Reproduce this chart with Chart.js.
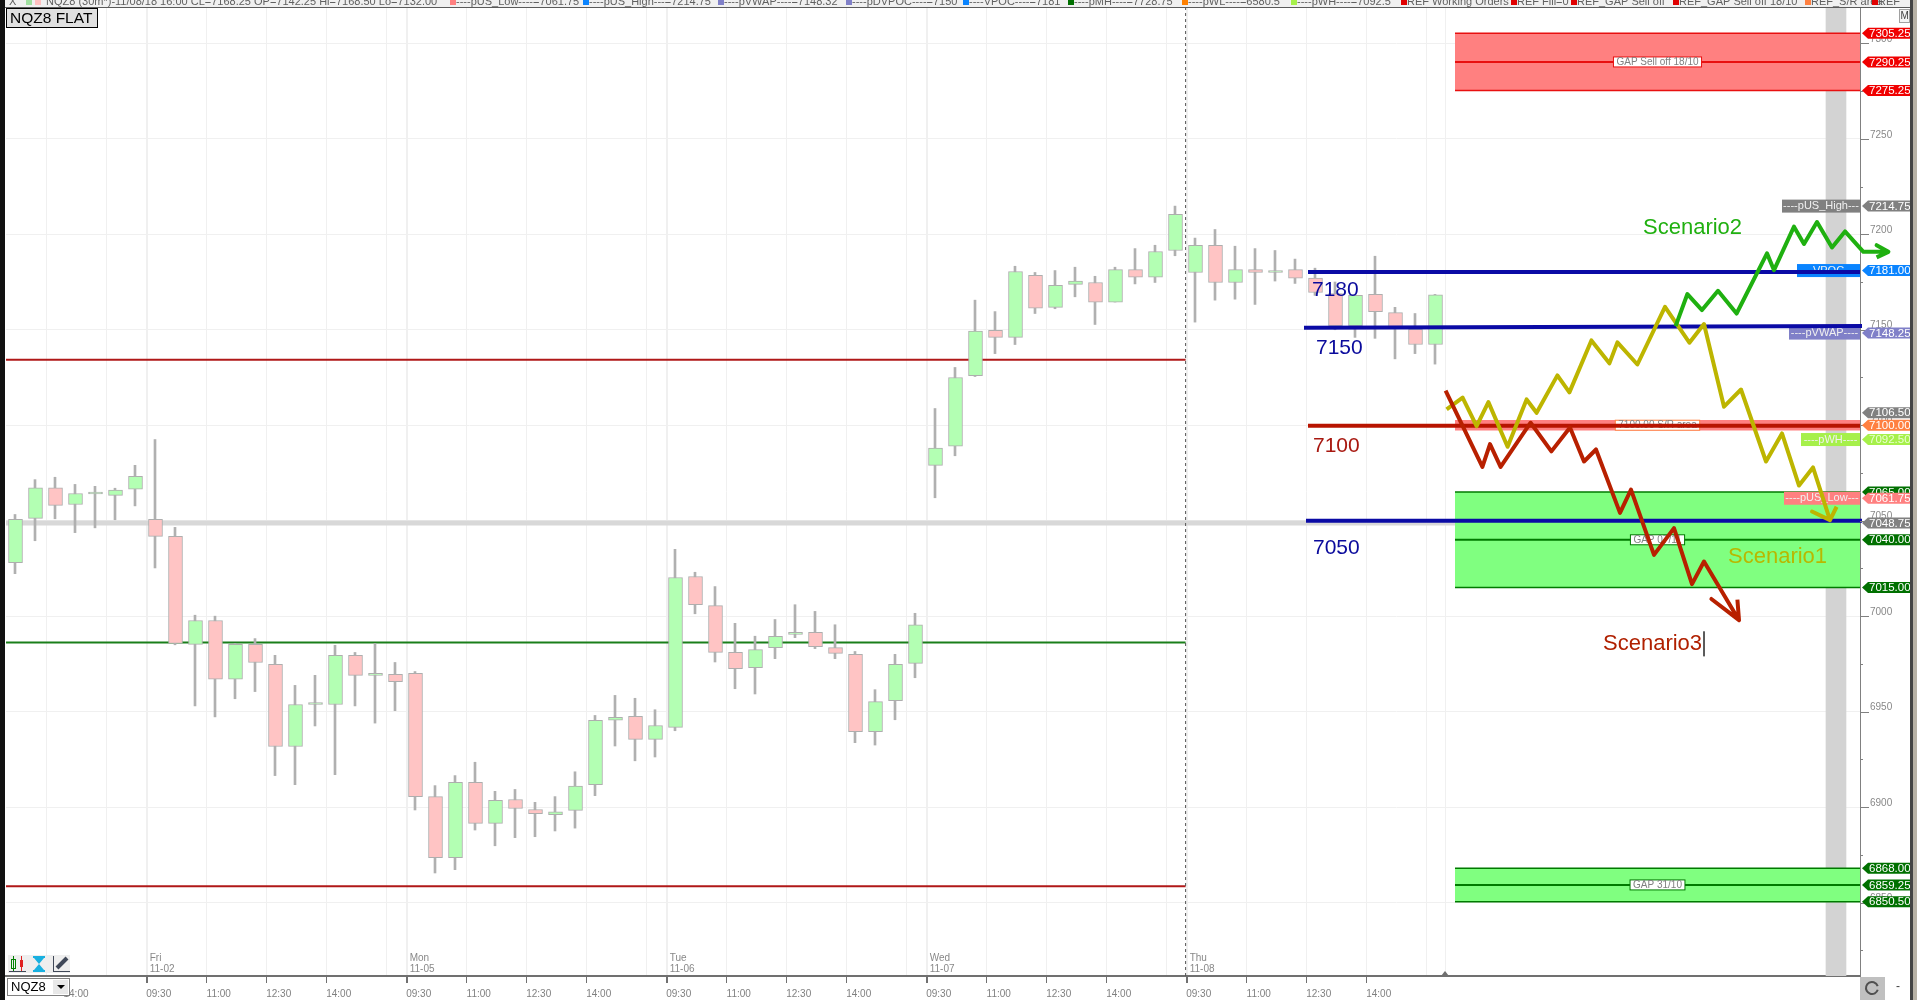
<!DOCTYPE html>
<html>
<head>
    <title>NQZ8 30m</title>
    <script src="https://cdn.jsdelivr.net/npm/chart.js"></script>
    <style>
        html, body { margin: 0; padding: 0; background: #fff; overflow: hidden; }
        canvas { display: block; }
    </style>
</head>
<body>
    <canvas id="myChart" width="1917" height="1000"></canvas>

    <script>
        // 30 minute candles, bar 0 is the first one on screen
        const opens = [7028,7051.25,7067.25,7058.5,7064,7063.25,7066.5,7050.75,7041.75,6985.25,6997.75,6967,6985.25,6974.75,6931.75,6953.75,6953.75,6979.5,6969,6969.5,6970,6905.5,6873.5,6913,6891.5,6904,6898.75,6896,6898.25,6911.75,6945.5,6947.5,6935.5,6941.75,7020.75,7005.5,6981,6973,6983.5,6990.5,6991.5,6983.5,6980,6939.5,6955.75,6975.25,7079,7089,7126,7149.75,7146,7178.5,7161.75,7173.75,7174.75,7164.5,7181.5,7177.5,7191.5,7180,7194.25,7174.75,7181.5,7180,7181.5,7177,7169,7152,7168.5,7159,7150.25,7142.25];
        const highs = [7053.25,7071.5,7072.75,7069,7068,7067,7079,7092.5,7046.5,7000.5,7000,6985.75,6988.25,6979.5,6963.75,6969,6984.75,6981,6985.75,6975.75,6971,6911.25,6916.5,6923.5,6908.25,6909.25,6902.5,6905.5,6918.5,6948,6958.5,6957,6951,7035,7023,7015.5,6996.25,6989.5,6998.25,7006,7002.5,6995.5,6981.5,6961.5,6980,7001.5,7108.75,7130.25,7165.5,7159.5,7183.25,7180,7181,7182.75,7178,7182.75,7192.5,7194.25,7214.75,7198,7202.5,7193.75,7192.5,7191.5,7187,7182.25,7175,7168,7188.5,7161.75,7158.5,7168.5];
        const lows = [7022.25,7039.5,7051,7043.75,7046.25,7050.5,7057.75,7025.25,6985,6953,6947.25,6956.75,6960.5,6916.5,6911.75,6942.5,6917,6953,6944,6950.5,6898.5,6865.5,6867.25,6888,6879.75,6884,6884.5,6887.5,6889,6906,6932,6924.25,6926.25,6940,7001.25,6976,6962,6959.25,6977.75,6988.75,6983,6977.75,6933.75,6932.5,6945.75,6967.75,7062,7084,7125.5,7137.5,7142.25,7158.5,7161,7167.25,7152.75,7164.5,7174,7174.75,7188.75,7154,7165.5,7166,7163.25,7175.5,7174.25,7168,7150,7146,7145.5,7134.75,7137.5,7132];
        const closes = [7050.75,7067.25,7058,7064.25,7064,7066,7073.25,7041.75,6985.75,6997.75,6967,6985.25,6975.75,6931.75,6953.75,6953.75,6979.5,6969,6970,6965.75,6905.5,6873.5,6913,6891.5,6903.5,6899.25,6896.5,6897.5,6911,6945.5,6947,6935.5,6942.75,7020.25,7006,6981,6972.5,6982.5,6989.5,6991.5,6984,6980.5,6939.5,6955.25,6974.75,6995.5,7088,7125,7149.25,7146,7180.5,7161.25,7173.25,7175.5,7164.5,7181.5,7177.5,7191,7210.5,7194.25,7174.75,7181.5,7180,7181,7177,7169.5,7152,7168,7159.5,7151.5,7142.25,7168.25];

        // time axis: a gridline sits a little left of its bar
        const xTickBars = [2,2.865,5,7,10,13,16,19,20,23,26,29,32,33,36,39,42,45,46,49,52,55,58,59,62,65,68,71,71.915];
        const xTickLabels = ['','14:00','','09:30','11:00','12:30','14:00','','09:30','11:00','12:30','14:00','','09:30','11:00','12:30','14:00','','09:30','11:00','12:30','14:00','','09:30','11:00','12:30','14:00','',''];
        const dayBars = [7,20,33,46,59];
        const dayNames = ['Fri','Mon','Tue','Wed','Thu'];
        const dayDates = ['11-02','11-05','11-06','11-07','11-08'];
        const priceTicks = [6825,6850,6875,6900,6925,6950,6975,7000,7025,7050,7075,7100,7125,7150,7175,7200,7225,7250,7275,7300];

        // levels
        const zoneTops = [7305.25,7065,6868];
        const zoneMids = [7290.25,7040,6859.25];
        const zoneBottoms = [7275.25,7015,6850.5];
        const zoneNames = ['GAP Sell off 18/10','GAP 07/11','GAP 31/10'];
        const srTop = 7102.75;
        const srBottom = 7097.25;
        const srName = '7100.00 S/R area';
        const prevLevels = [7134.25,6986.25,6858.5];
        const vwapLevel = 7048.75;

        // hand drawn lines
        const drawnLeft = [64.65,64.45,64.65,64.55];
        const drawnRight = [92.25,92.35,92.25,92.35];
        const drawnStart = [7180.25,7151,7099.75,7050];
        const drawnEnd = [7180.25,7152,7099.75,7050];

        const scenario1X = [71.58,72.38,73.08,73.67,74.63,75.58,76.08,77.12,77.72,78.82,79.72,80.12,81.12,82.5,83.72,84.45,85.45,86.3,87.55,88.35,89.2,89.9,90.75,89.85,90.75,91.08];
        const scenario1Y = [7108.3,7114.5,7099.5,7112.1,7088.7,7113.5,7106.5,7126.1,7117.2,7144.4,7132.4,7143.4,7131.8,7162,7143.2,7153,7109.7,7118.7,7081,7095.7,7068.4,7077.9,7050.3,7054.8,7050.3,7057.3];
        const scenario2X = [83.03,83.62,84.35,85.15,86.08,87.6,87.95,88.95,89.45,90.1,90.85,91.5,92.42,93.67,93.08,93.67,93.08];
        const scenario2Y = [7151.9,7168.7,7160.3,7170.4,7158.5,7190,7181.2,7204,7194.9,7206.4,7193.1,7201.5,7190.8,7190.8,7194.3,7190.8,7187.9];
        const scenario3X = [71.53,73.37,73.75,74.28,75.78,76.82,77.75,78.45,79.05,80.25,80.8,81.95,82.95,83.85,84.45,86.2,84.82,86.2,86.12];
        const scenario3Y = [7118.1,7078.2,7090.1,7078.2,7101.3,7086.3,7098.8,7081,7087.3,7054.1,7066.3,7032.1,7046.1,7016.8,7028.6,6997.9,7009,6997.9,7008.7];

        const noteTexts = ['7180','7150','7100','7050','Scenario1','Scenario2','Scenario3'];
        const noteX = [64.85,65.05,64.9,64.9,85.65,81.4,79.4];
        const noteY = [7170.8,7140.4,7089,7035.7,7030.9,7203.2,6985.3];

        // price flags on the right axis
        const flagValues = [7305.25,7290.25,7275.25,7214.75,7181,7148.25,7106.5,7100,7092.5,7065,7061.75,7048.75,7040,7015,6868,6859.25,6850.5];
        const flagColors = ['#f00000','#f00000','#f00000','#808080','#0a84ff','#8080c8','#808080','#ff8040','#a6f04a','#007000','#ff8080','#808080','#007000','#007000','#007000','#007000','#007000'];

        const sideNames = ['----pUS_High---','----VPOC----','----pVWAP----','----pWH----','----pUS_Low---'];
        const sideValues = [7214.75,7181,7148.25,7092.5,7061.75];
        const sideColors = ['#808080','#0a84ff','#8080c8','#a6f04a','#ff8080'];
        const sideWidths = [78,63,71,59,76];

        const headerItems = [
            ['#a0e0a0', 26, ''], ['#ffc0c0', 35, ''],
            ['', 46, 'NQZ8 (30m*)-11/08/18 16:00 CL=7168.25 OP=7142.25 Hi=7168.50 Lo=7132.00'],
            ['#ff8080', 450, '----pUS_Low----=7061.75'], ['#0a84ff', 583, '----pUS_High---=7214.75'],
            ['#8080c8', 718, '----pVWAP----=7148.32'], ['#8080c8', 846, '----pDVPOC----=7150'],
            ['#0a84ff', 963, '----VPOC----=7181'], ['#007000', 1068, '----pMH----=7728.75'],
            ['#ff8000', 1182, '----pWL----=6580.5'], ['#a6f04a', 1291, '----pWH----=7092.5'],
            ['#e00000', 1401, 'REF Working Orders'], ['#e00000', 1511, 'REF Fill=0'],
            ['#e00000', 1571, 'REF_GAP Sell off'], ['#e00000', 1673, 'REF_GAP Sell off 18/10'],
            ['#ff8040', 1805, 'REF_S/R area'], ['#e00000', 1872, 'REF']
        ];

        const FONT = '"Liberation Sans", Arial, sans-serif';
        const X_MIN = -0.45, X_MAX = 92.25, Y_MIN = 6811.55, Y_MAX = 7318.5;
        const ZONE_LEFT = 72;

        function hline(x0, x1, y0, y1, color, width, order, extra) {
            return Object.assign({
                type: 'line',
                data: [{x: x0, y: y0}, {x: x1, y: y1}],
                borderColor: color,
                borderWidth: width,
                pointRadius: 0,
                order: order
            }, extra || {});
        }

        function polyline(xs, ys, color, order) {
            return {
                type: 'line',
                data: xs.map((x, i) => ({x: x, y: ys[i]})),
                borderColor: color,
                borderWidth: 4,
                // miter overshoots on the arrow heads
                borderJoinStyle: 'round',
                borderCapStyle: 'butt',
                pointRadius: 0,
                clip: false,
                order: order
            };
        }

        // the edge tick labels must not push the plot area in
        function noPadding(scale) {
            scale.paddingLeft = 0;
            scale.paddingRight = 0;
            scale.paddingTop = 0;
            scale.paddingBottom = 0;
        }

        let datasets = [];

        // session shading
        datasets.push({
            type: 'bar',
            data: [{x: 91.05, y: [Y_MIN, Y_MAX]}],
            backgroundColor: '#d3d3d3',
            barThickness: 20,
            grouped: false,
            order: 100
        });

        // previous levels and vwap
        datasets.push(hline(X_MIN, X_MAX, vwapLevel, vwapLevel, '#d8d8d8', 5, 95));
        datasets.push(hline(X_MIN, 58.53, prevLevels[0], prevLevels[0], '#b01818', 2, 90));
        datasets.push(hline(X_MIN, 58.53, prevLevels[1], prevLevels[1], '#1a7f1a', 2, 90));
        datasets.push(hline(X_MIN, 58.53, prevLevels[2], prevLevels[2], '#b01818', 2, 90));

        // gap zones
        zoneTops.forEach((top, i) => {
            let fillColor = i === 0 ? '#ff8080' : '#80ff80';
            let edge = i === 0 ? '#e81010' : '#007a00';
            datasets.push(hline(ZONE_LEFT, X_MAX, top, top, edge, 1.5, 80, {
                fill: {value: zoneBottoms[i]},
                backgroundColor: fillColor
            }));
            datasets.push(hline(ZONE_LEFT, X_MAX, zoneBottoms[i], zoneBottoms[i], edge, 1.5, 79));
            datasets.push(hline(ZONE_LEFT, X_MAX, zoneMids[i], zoneMids[i], edge, 2, 78));
        });
        datasets.push(hline(ZONE_LEFT, X_MAX, srTop, srTop, '#ff8080', 0, 80, {
            fill: {value: srBottom},
            backgroundColor: '#ff8080'
        }));

        // candles: wick bar under a body bar
        datasets.push({
            type: 'bar',
            data: highs.map((h, i) => ({x: i, y: [lows[i], h]})),
            backgroundColor: '#b0b0b0',
            barThickness: 2,
            grouped: false,
            order: 70
        });
        datasets.push({
            type: 'bar',
            data: opens.map((o, i) => ({x: i + 0.025, y: [o, closes[i]]})),
            backgroundColor: opens.map((o, i) => closes[i] >= o ? '#b3ffb3' : '#ffc4c4'),
            borderColor: '#aeaeae',
            borderWidth: 1,
            borderSkipped: false,
            barThickness: 14,
            minBarLength: 2,
            grouped: false,
            order: 60
        });

        // current time marker
        datasets.push(hline(58.53, 58.53, Y_MIN, Y_MAX, '#555555', 1, 55, {borderDash: [3, 3]}));

        // drawn levels
        ['#0a0aa5', '#0a0aa5', '#b81400', '#0a0aa5'].forEach((color, i) => {
            datasets.push(hline(drawnLeft[i], drawnRight[i], drawnStart[i], drawnEnd[i], color, 4, 50, {clip: false, label: 'drawn'}));
        });

        datasets.push(polyline(scenario1X, scenario1Y, '#bdb500', 42));
        datasets.push(polyline(scenario2X, scenario2Y, '#1fb010', 41));
        datasets.push(polyline(scenario3X, scenario3Y, '#b82000', 40));

        // text cursor after Scenario3
        datasets.push(hline(84.45, 84.45, 6992, 6979, '#444444', 1, 39));

        function labelBox(ctx, chart, text, value, border) {
            let y = chart.scales.y.getPixelForValue(value);
            let x = chart.scales.x.getPixelForValue((X_MAX + ZONE_LEFT) / 2);
            ctx.font = '10px ' + FONT;
            let w = ctx.measureText(text).width + 6;
            ctx.fillStyle = '#ffffff';
            ctx.strokeStyle = border;
            ctx.lineWidth = 1;
            ctx.fillRect(x - w / 2, y - 5, w, 10);
            ctx.strokeRect(x - w / 2, y - 5, w, 10);
            ctx.fillStyle = '#808080';
            ctx.textAlign = 'center';
            ctx.textBaseline = 'middle';
            ctx.fillText(text, x, y);
        }

        function drawSideBoxes(chart) {
            let ctx = chart.ctx;
            let yScale = chart.scales.y;
            let right = chart.chartArea.right;
            ctx.save();
            ctx.font = '11px ' + FONT;
            ctx.textAlign = 'center';
            ctx.textBaseline = 'middle';
            sideNames.forEach((name, i) => {
                let y = yScale.getPixelForValue(sideValues[i]);
                let w = sideWidths[i];
                ctx.fillStyle = sideColors[i];
                ctx.fillRect(right - w, y - 6.5, w, 13);
                ctx.fillStyle = '#f0f0f0';
                ctx.fillText(name, right - w / 2, y);
            });
            zoneNames.forEach((name, i) => {
                labelBox(ctx, chart, name, zoneMids[i], i === 0 ? '#e81010' : '#007a00');
            });
            labelBox(ctx, chart, srName, 7100, '#ff8040');
            ctx.restore();
        }

        const overlayPlugin = {
            id: 'overlay',
            beforeDatasetDraw(chart, args) {
                // boxes go in right before the first drawn level
                if (chart.data.datasets[args.index].label === 'drawn' && !chart.$boxesDone) {
                    chart.$boxesDone = true;
                    drawSideBoxes(chart);
                }
            },
            beforeDraw(chart) {
                chart.$boxesDone = false;
            },
            afterDraw(chart) {
                let ctx = chart.ctx;
                let xScale = chart.scales.x;
                let yScale = chart.scales.y;
                let right = chart.chartArea.right;
                ctx.save();

                // day captions
                ctx.font = '10px ' + FONT;
                ctx.fillStyle = '#888888';
                ctx.textAlign = 'left';
                ctx.textBaseline = 'middle';
                dayBars.forEach((bar, i) => {
                    let x = xScale.getPixelForValue(bar - 0.415) + 3;
                    ctx.fillText(dayNames[i], x, 958);
                    ctx.fillText(dayDates[i], x, 969);
                });

                // y axis tick marks
                ctx.strokeStyle = '#808080';
                ctx.lineWidth = 1;
                priceTicks.forEach(v => {
                    let y = Math.round(yScale.getPixelForValue(v)) + 0.5;
                    ctx.beginPath();
                    ctx.moveTo(right, y);
                    ctx.lineTo(right + (v % 50 === 0 ? 9 : 3), y);
                    ctx.stroke();
                });

                // notes
                ctx.textBaseline = 'middle';
                noteTexts.forEach((text, i) => {
                    let big = text.length > 4;
                    ctx.font = (big ? '22px ' : '21px ') + FONT;
                    let color = '#0a0a9c';
                    if (text === '7100') color = '#a81810';
                    if (text === 'Scenario1') color = '#b8b800';
                    if (text === 'Scenario2') color = '#20b010';
                    if (text === 'Scenario3') color = '#b02000';
                    ctx.fillStyle = color;
                    ctx.fillText(text, xScale.getPixelForValue(noteX[i]), yScale.getPixelForValue(noteY[i]));
                });

                // price flags
                ctx.font = '11.5px ' + FONT;
                flagValues.forEach((v, i) => {
                    let y = yScale.getPixelForValue(v);
                    ctx.fillStyle = flagColors[i];
                    ctx.beginPath();
                    ctx.moveTo(1862, y);
                    ctx.lineTo(1868, y - 5.5);
                    ctx.lineTo(1910, y - 5.5);
                    ctx.lineTo(1910, y + 5.5);
                    ctx.lineTo(1868, y + 5.5);
                    ctx.closePath();
                    ctx.fill();
                    ctx.fillStyle = flagColors[i] === '#a6f04a' ? '#e8ffd0' : '#ffffff';
                    ctx.fillText(v.toFixed(2), 1869, y + 0.5);
                });

                drawChrome(ctx);
                ctx.restore();
            }
        };

        function drawChrome(ctx) {
            // header strip, text is cut by the window edge
            ctx.fillStyle = '#f0f0f0';
            ctx.fillRect(0, 0, 1917, 7);
            ctx.save();
            ctx.beginPath();
            ctx.rect(0, 0, 1917, 7);
            ctx.clip();
            ctx.font = '11px ' + FONT;
            ctx.textAlign = 'left';
            ctx.textBaseline = 'alphabetic';
            headerItems.forEach(item => {
                if (item[0]) {
                    ctx.fillStyle = item[0];
                    ctx.fillRect(item[1], 0, 6, 5);
                }
                if (item[2]) {
                    ctx.fillStyle = '#606060';
                    ctx.fillText(item[2], item[0] ? item[1] + 6 : item[1], 5);
                }
            });
            ctx.fillStyle = '#606060';
            ctx.fillText('X', 9, 5);
            ctx.restore();
            ctx.fillStyle = '#5a5a5a';
            ctx.fillRect(0, 7, 1910, 1);

            // window edges
            ctx.fillStyle = '#111111';
            ctx.fillRect(0, 0, 5, 1000);
            ctx.fillStyle = '#444444';
            ctx.fillRect(1910, 0, 3, 1000);
            ctx.fillStyle = '#b8b2a6';
            ctx.fillRect(1913, 0, 4, 1000);

            // symbol tag
            ctx.fillStyle = '#e0e0e0';
            ctx.fillRect(6, 8, 91, 19);
            ctx.strokeStyle = '#000000';
            ctx.lineWidth = 1;
            ctx.strokeRect(6.5, 8.5, 91, 19);
            ctx.fillStyle = '#000000';
            ctx.font = '15.5px ' + FONT;
            ctx.textAlign = 'left';
            ctx.textBaseline = 'middle';
            ctx.fillText('NQZ8 FLAT', 10, 18.5);

            // M button
            ctx.fillStyle = '#f4f4f4';
            ctx.fillRect(1899, 9, 11, 13);
            ctx.strokeStyle = '#a0a0a0';
            ctx.strokeRect(1899.5, 9.5, 10, 13);
            ctx.fillStyle = '#404040';
            ctx.font = '10px ' + FONT;
            ctx.fillText('M', 1900.5, 16);

            // tool icons
            ctx.fillStyle = '#eeeeee';
            ctx.fillRect(8, 955, 62, 18);
            ctx.fillStyle = '#008000';
            ctx.fillRect(13, 956, 1, 15);
            ctx.strokeStyle = '#008000';
            ctx.strokeRect(11.5, 959.5, 4, 9);
            ctx.fillStyle = '#e02020';
            ctx.fillRect(21, 956, 1, 15);
            ctx.fillRect(20, 960, 3, 7);
            ctx.fillStyle = '#404858';
            ctx.fillRect(9, 971, 17, 1);
            ctx.fillRect(53, 971, 17, 1);
            ctx.fillRect(53, 956, 1, 15);
            ctx.fillStyle = '#18b0e0';
            ctx.fillRect(33, 956, 12, 2);
            ctx.fillRect(33, 970, 12, 2);
            ctx.beginPath();
            ctx.moveTo(34, 958); ctx.lineTo(44, 958); ctx.lineTo(39, 964);
            ctx.lineTo(44, 970); ctx.lineTo(34, 970); ctx.lineTo(39, 964);
            ctx.closePath();
            ctx.fill();
            ctx.strokeStyle = '#404858';
            ctx.lineWidth = 4;
            ctx.beginPath();
            ctx.moveTo(57, 968);
            ctx.lineTo(67, 958);
            ctx.stroke();
            ctx.lineWidth = 1;

            // symbol box
            ctx.fillStyle = '#ffffff';
            ctx.fillRect(7, 978, 62, 18);
            ctx.strokeStyle = '#808080';
            ctx.strokeRect(7.5, 978.5, 62, 17);
            ctx.fillStyle = '#e8e8e8';
            ctx.fillRect(53, 980, 15, 14);
            ctx.fillStyle = '#000000';
            ctx.beginPath();
            ctx.moveTo(57, 985); ctx.lineTo(65, 985); ctx.lineTo(61, 989);
            ctx.closePath();
            ctx.fill();
            ctx.font = '13px ' + FONT;
            ctx.fillText('NQZ8', 11, 987.5);

            // marker on the time axis
            ctx.fillStyle = '#707070';
            ctx.beginPath();
            ctx.moveTo(1445, 971); ctx.lineTo(1449, 976); ctx.lineTo(1441, 976);
            ctx.closePath();
            ctx.fill();

            // reload button
            ctx.fillStyle = '#c0c0c0';
            ctx.fillRect(1860, 977, 25, 23);
            ctx.strokeStyle = '#505050';
            ctx.lineWidth = 2;
            ctx.beginPath();
            ctx.arc(1872, 988, 6, 0.3, Math.PI * 1.9);
            ctx.stroke();
            ctx.fillStyle = '#404040';
            ctx.font = '12px ' + FONT;
            ctx.fillText('-', 1896, 987);
        }

        let ctx = document.getElementById('myChart').getContext('2d');
        window.myChart = new Chart(ctx, {
            type: 'line',
            data: {datasets: datasets},
            plugins: [overlayPlugin],
            options: {
                responsive: false,
                animation: false,
                devicePixelRatio: 1,
                events: [],
                layout: {padding: {left: 6, top: 8, right: 0, bottom: 0}},
                plugins: {
                    legend: {display: false},
                    tooltip: {enabled: false}
                },
                scales: {
                    x: {
                        type: 'linear',
                        min: X_MIN,
                        max: X_MAX,
                        // bar datasets would switch this on otherwise
                        offset: false,
                        afterBuildTicks: scale => {
                            scale.ticks = xTickBars.map(b => ({value: b - 0.415}));
                        },
                        afterFit: scale => {
                            scale.height = 24;
                            noPadding(scale);
                        },
                        ticks: {
                            autoSkip: false,
                            maxRotation: 0,
                            minRotation: 0,
                            labelOffset: 12,
                            padding: 5,
                            color: '#808080',
                            font: {family: FONT, size: 10},
                            callback: (value, index) => xTickLabels[index]
                        },
                        grid: {
                            offset: false,
                            color: ctx => xTickBars[ctx.index] === 2.865 ? 'rgba(0,0,0,0)' : '#f0f0f0',
                            lineWidth: ctx => dayBars.includes(xTickBars[ctx.index]) ? 2 : 1,
                            tickColor: ctx => xTickLabels[ctx.index] && xTickBars[ctx.index] !== 2.865 ? '#707070' : 'rgba(0,0,0,0)',
                            tickLength: 7
                        },
                        border: {color: '#707070', width: 2}
                    },
                    y: {
                        type: 'linear',
                        position: 'right',
                        min: Y_MIN,
                        max: Y_MAX,
                        afterBuildTicks: scale => {
                            scale.ticks = priceTicks.map(v => ({value: v}));
                        },
                        afterFit: scale => {
                            scale.width = 57;
                            noPadding(scale);
                        },
                        ticks: {
                            autoSkip: false,
                            padding: 10,
                            labelOffset: -4,
                            color: '#888888',
                            font: {family: FONT, size: 10},
                            callback: value => value % 50 === 0 ? String(value) : ''
                        },
                        grid: {
                            color: ctx => ctx.tick && ctx.tick.value % 50 === 0 ? '#f0f0f0' : 'rgba(0,0,0,0)',
                            drawTicks: false
                        },
                        border: {color: '#808080', width: 1}
                    }
                }
            }
        });
    </script>
</body>
</html>
